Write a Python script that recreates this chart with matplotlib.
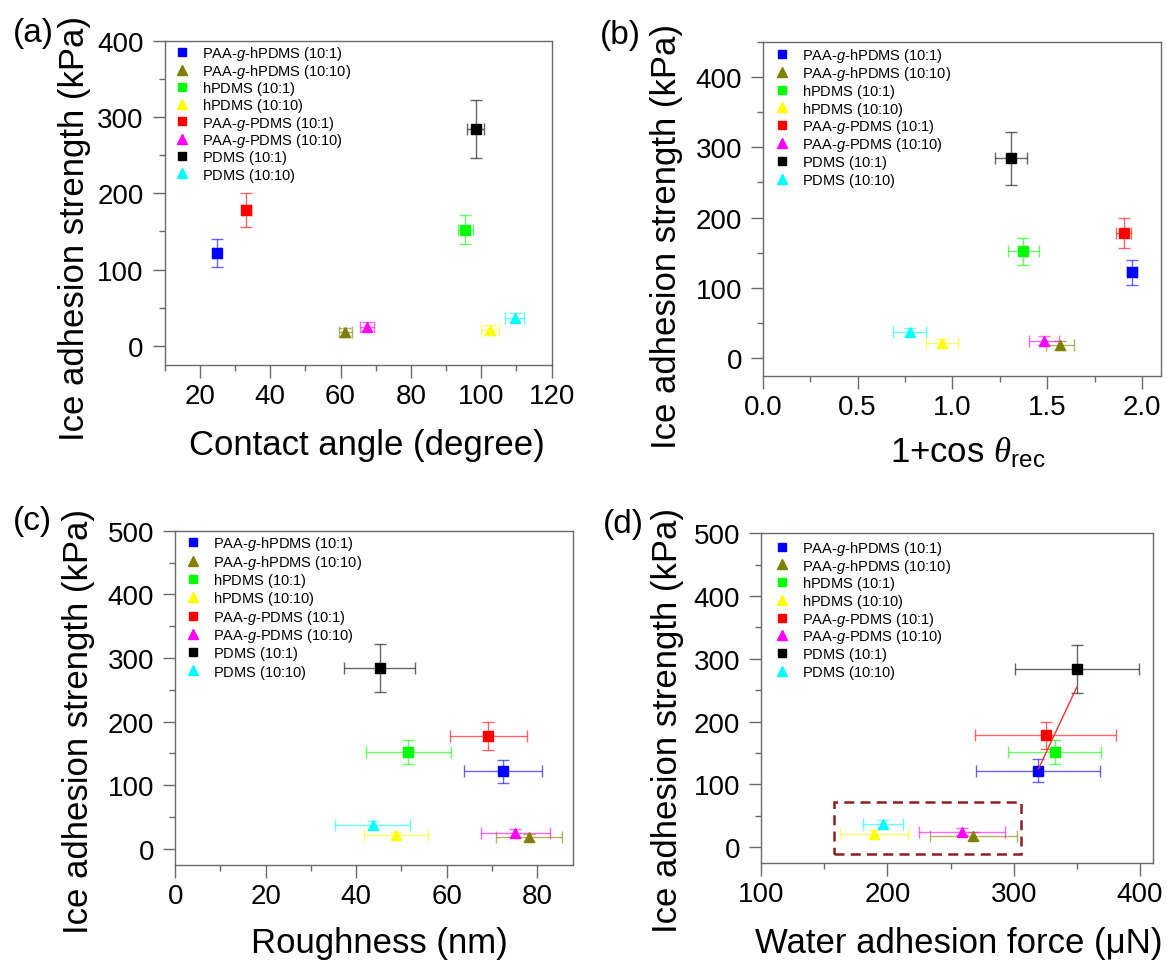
import matplotlib
matplotlib.use('Agg')
import matplotlib.pyplot as plt
from matplotlib.ticker import MultipleLocator, FormatStrFormatter
from matplotlib.lines import Line2D
from matplotlib.colors import to_rgba
from matplotlib.patches import Rectangle

plt.rcParams['font.family'] = ['Liberation Sans', 'DejaVu Sans']
plt.rcParams['mathtext.fontset'] = 'custom'
plt.rcParams['mathtext.rm'] = 'Liberation Sans'
plt.rcParams['mathtext.it'] = 'Liberation Serif:italic'
plt.rcParams['mathtext.sf'] = 'Liberation Sans:italic'

# ---------------- data ----------------
names = ['PAA-$\\mathsf{g}$-hPDMS (10:1)', 'PAA-$\\mathsf{g}$-hPDMS (10:10)',
         'hPDMS (10:1)$\\,$', 'hPDMS (10:10)$\\,$',
         'PAA-$\\mathsf{g}$-PDMS (10:1)', 'PAA-$\\mathsf{g}$-PDMS (10:10)',
         'PDMS (10:1)$\\,$', 'PDMS (10:10)$\\,$']
colors = ['#0000FF', '#808000', '#00FF00', '#FFFF00',
          '#FF0000', '#FF00FF', '#000000', '#00FFFF']
markers = ['s', '^', 's', '^', 's', '^', 's', '^']

ice = [122, 18, 152, 21, 178, 25, 284, 37]
ice_err = [18, 6, 19, 6, 22, 6, 38, 6]

contact_angle = [24.8, 61.4, 95.5, 102.5, 33.2, 67.5, 98.4, 109.5]
contact_err = [1.0, 1.8, 2.2, 2.5, 1.2, 1.9, 2.4, 2.7]

cos_rec = [1.948, 1.569, 1.374, 0.947, 1.903, 1.482, 1.308, 0.775]
cos_err = [0.027, 0.074, 0.082, 0.085, 0.039, 0.079, 0.085, 0.086]

roughness = [72.5, 78.2, 51.5, 48.8, 69.2, 75.2, 45.2, 43.7]
rough_err = [8.6, 7.3, 9.4, 7.1, 8.5, 7.6, 7.9, 8.3]

water_force = [319.0, 268.0, 332.4, 189.7, 325.2, 258.8, 350.2, 196.7]
water_err = [49, 34.5, 37, 27, 56, 34, 49, 16]

fit_x = [319.6, 349.9]
fit_y = [124.7, 254.8]

box_x = [158, 306]
box_y = [-10.7, 71.7]

# ---------------- figure ----------------
W, H = 1167, 962
fig = plt.figure(figsize=(W / 100, H / 100), dpi=100)
SPINE = '#6a6a6a'
LEG_FS = 10.5
FS_PX = LEG_FS * 100 / 72.0

# legend targets: first marker centre (px from top-left), row pitch (px)
panels = [
    dict(rect=[0.1411, 0.6195, 0.3316, 0.3372], x=contact_angle, xerr=contact_err,
         xlim=(10, 120), ylim=(-25, 400), xmaj=20, xmin=10,
         xlabel='Contact angle (degree)', letter='(a)', lpos=(0.0283, 0.9647),
         xlc=(0.522, -0.244), ylc=(-0.234, 0.4255), mk=(181.6, 53.3), pitch=17.3,
         fmt=None),
    dict(rect=[0.6536, 0.6084, 0.3413, 0.3472], x=cos_rec, xerr=cos_err,
         xlim=(0, 2.1), ylim=(-25, 450), xmaj=0.5, xmin=0.25,
         xlabel='1+cos $\\theta_{\\mathrm{rec}}$', letter='(b)', lpos=(0.5313, 0.9626),
         xlc=(0.515, -0.228), ylc=(-0.2406, 0.421), mk=(782.0, 55.0), pitch=17.8,
         fmt='%.1f'),
    dict(rect=[0.1501, 0.1001, 0.3412, 0.3472], x=roughness, xerr=rough_err,
         xlim=(0, 88), ylim=(-25, 500), xmaj=20, xmin=10,
         xlabel='Roughness (nm)', letter='(c)', lpos=(0.0274, 0.4574),
         xlc=(0.514, -0.234), ylc=(-0.2416, 0.433), mk=(192.5, 543.3), pitch=18.3,
         fmt=None),
    dict(rect=[0.6521, 0.1019, 0.3356, 0.3427], x=water_force, xerr=water_err,
         xlim=(100, 410), ylim=(-25, 500), xmaj=100, xmin=50,
         xlabel='Water adhesion force (\u03bcN)', letter='(d)', lpos=(0.5338, 0.4553),
         xlc=(0.5046, -0.240), ylc=(-0.240, 0.434), mk=(782.0, 547.7), pitch=17.7,
         fmt=None),
]


def make_legend(ax, anchor, ls):
    handles = [Line2D([], [], marker=markers[k], color=colors[k], linestyle='none',
                      ms=(6.0 if markers[k] == 's' else 7.0)) for k in range(len(names))]
    return ax.legend(handles, names, loc='upper left', bbox_to_anchor=anchor,
                     frameon=False, fontsize=LEG_FS, borderpad=0, borderaxespad=0,
                     handlelength=0.95, handleheight=0.7, handletextpad=0.9,
                     labelspacing=ls)


axes = []
for i, p in enumerate(panels):
    ax = fig.add_axes(p['rect'])
    axes.append(ax)
    for k in range(len(names)):
        ms = 6.5 if markers[k] == 's' else 7.5
        ax.errorbar(p['x'][k], ice[k], xerr=p['xerr'][k], yerr=ice_err[k],
                    fmt=markers[k], color=colors[k], mec=colors[k], ms=ms,
                    ecolor=to_rgba(colors[k], 0.6), elinewidth=1.0,
                    capsize=4.2, capthick=1.0, zorder=3)
    ax.set_xlim(*p['xlim'])
    ax.set_ylim(*p['ylim'])
    ax.xaxis.set_major_locator(MultipleLocator(p['xmaj']))
    ax.xaxis.set_minor_locator(MultipleLocator(p['xmin']))
    ax.yaxis.set_major_locator(MultipleLocator(100))
    ax.yaxis.set_minor_locator(MultipleLocator(50))
    if p['fmt']:
        ax.xaxis.set_major_formatter(FormatStrFormatter(p['fmt']))
    for s in ax.spines.values():
        s.set_color(SPINE)
        s.set_linewidth(1.0)
    ax.tick_params(which='major', direction='out', length=9, width=1.0,
                   color=SPINE, labelsize=20, top=False, right=False)
    ax.tick_params(which='minor', direction='out', length=4, width=1.0,
                   color=SPINE, top=False, right=False)
    ax.tick_params(axis='y', which='major', pad=6)
    ax.tick_params(axis='x', which='major', pad=4)

    ax.set_xlabel(p['xlabel'], fontsize=25)
    ax.xaxis.set_label_coords(*p['xlc'])
    ax.xaxis.label.set_va('center')
    ax.set_ylabel('Ice adhesion strength (kPa)', fontsize=25)
    ax.yaxis.set_label_coords(*p['ylc'])
    ax.yaxis.label.set_va('center')

    fig.text(p['lpos'][0], p['lpos'][1], p['letter'], fontsize=24,
             ha='center', va='center')

    if i == 3:
        ax.plot(fit_x, fit_y, color='#FF3030', lw=1.0, zorder=4)
        ax.add_patch(Rectangle((box_x[0], box_y[0]), box_x[1] - box_x[0],
                               box_y[1] - box_y[0], fill=False,
                               edgecolor='#8B2020', lw=1.8,
                               linestyle=(0, (4, 2.5)), zorder=2))

# ---- legends: measure text heights, then place first marker at the target ----
renderer = fig.canvas.get_renderer()
for ax, p in zip(axes, panels):
    anchor = (0.03, 0.99)
    leg = make_legend(ax, anchor, 0.1)
    fig.canvas.draw()
    th = max(t.get_window_extent(renderer).height for t in leg.get_texts())
    ls = (p['pitch'] - th) / FS_PX
    leg.remove()
    leg = make_legend(ax, anchor, ls)
    fig.canvas.draw()
    bb = leg.legend_handles[0].get_window_extent(renderer)
    cx = 0.5 * (bb.x0 + bb.x1)
    cy = 0.5 * (bb.y0 + bb.y1)
    tx, ty = p['mk'][0], H - p['mk'][1]
    axbb = ax.get_window_extent(renderer)
    anchor = (anchor[0] + (tx - cx) / axbb.width, anchor[1] + (ty - cy) / axbb.height)
    leg.remove()
    make_legend(ax, anchor, ls)

fig.savefig('out.png', dpi=100)
